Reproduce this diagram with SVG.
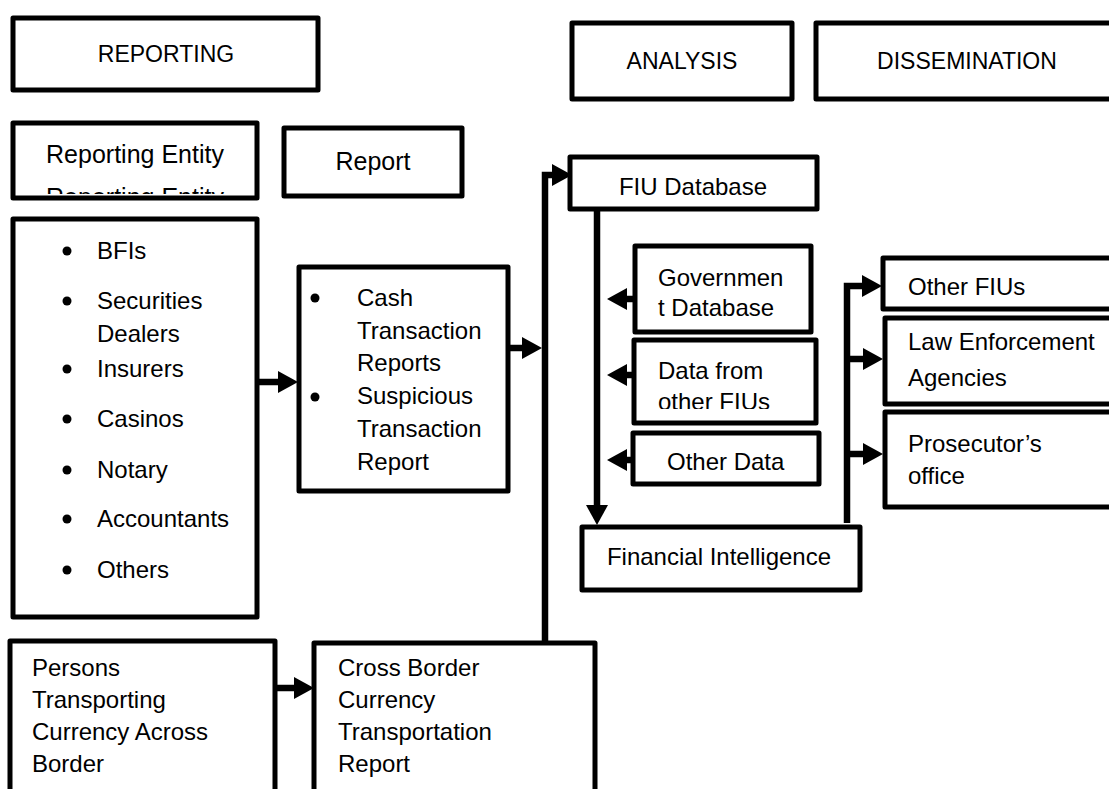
<svg xmlns="http://www.w3.org/2000/svg" width="1109" height="789" viewBox="0 0 1109 789">
<style>
.box{fill:#fff;stroke:#000;stroke-width:5;stroke-linejoin:round}
.t{font-family:"Liberation Sans",Arial,sans-serif;font-size:24px;fill:#000}
.h{font-family:"Liberation Sans",Arial,sans-serif;font-size:23px;fill:#000;text-anchor:middle}
.b{font-family:"Liberation Sans",Arial,sans-serif;font-size:25px;fill:#000;text-anchor:middle}
.c{text-anchor:middle}
.con{fill:none;stroke:#000;stroke-width:6.5;marker-end:url(#ah)}
</style>
<defs>
<marker id="ah" markerUnits="userSpaceOnUse" markerWidth="22" markerHeight="24" refX="0" refY="11" orient="auto" overflow="visible">
<path d="M0,0 L20,11 L0,22 Z" fill="#000"/>
</marker>
<clipPath id="clipRE"><rect x="15" y="125" width="240" height="69"/></clipPath>
<clipPath id="clipDF"><rect x="637" y="343" width="176" height="66"/></clipPath>
<clipPath id="clipLE"><rect x="888" y="321" width="221" height="70"/></clipPath>
</defs>
<rect width="1109" height="789" fill="#fff"/>

<g id="reporting"><rect class="box" x="13" y="18" width="305" height="72"/><text class="h" x="166" y="62">REPORTING</text></g>
<g id="analysis"><rect class="box" x="572" y="23" width="220" height="76"/><text class="h" x="682" y="69">ANALYSIS</text></g>
<g id="dissemination"><rect class="box" x="816" y="23" width="310" height="76"/><text class="h" x="967" y="69">DISSEMINATION</text></g>

<g id="reporting-entity"><rect class="box" x="13" y="123" width="244" height="75"/>
<text class="b" x="135" y="163">Reporting Entity</text>
<text class="b" x="135" y="206" clip-path="url(#clipRE)">Reporting Entity</text></g>
<g id="report"><rect class="box" x="284" y="128" width="178" height="68"/><text class="b" x="373" y="170">Report</text></g>

<g id="entities"><rect class="box" x="13" y="219" width="244" height="398"/>
<g fill="#000"><circle cx="67" cy="251" r="4.5"/><circle cx="67" cy="301" r="4.5"/><circle cx="67" cy="369" r="4.5"/><circle cx="67" cy="419" r="4.5"/><circle cx="67" cy="470" r="4.5"/><circle cx="67" cy="519" r="4.5"/><circle cx="67" cy="570" r="4.5"/></g>
<text class="t" x="97" y="259">BFIs</text>
<text class="t" x="97" y="309">Securities</text>
<text class="t" x="97" y="342">Dealers</text>
<text class="t" x="97" y="377">Insurers</text>
<text class="t" x="97" y="427">Casinos</text>
<text class="t" x="97" y="478">Notary</text>
<text class="t" x="97" y="527">Accountants</text>
<text class="t" x="97" y="578">Others</text></g>

<g id="reports"><rect class="box" x="299" y="267" width="209" height="224"/>
<g fill="#000"><circle cx="315" cy="298" r="4.5"/><circle cx="315" cy="397" r="4.5"/></g>
<text class="t" x="357" y="306">Cash</text>
<text class="t" x="357" y="339">Transaction</text>
<text class="t" x="357" y="371">Reports</text>
<text class="t" x="357" y="404">Suspicious</text>
<text class="t" x="357" y="437">Transaction</text>
<text class="t" x="357" y="470">Report</text></g>

<g id="persons"><rect class="box" x="10" y="641" width="265" height="170"/>
<text class="t" x="32" y="676">Persons</text>
<text class="t" x="32" y="708">Transporting</text>
<text class="t" x="32" y="740">Currency Across</text>
<text class="t" x="32" y="772">Border</text></g>

<g id="cross-border"><rect class="box" x="314" y="643" width="281" height="170"/>
<text class="t" x="338" y="676">Cross Border</text>
<text class="t" x="338" y="708">Currency</text>
<text class="t" x="338" y="740">Transportation</text>
<text class="t" x="338" y="772">Report</text></g>

<g id="fiu-database"><rect class="box" x="570" y="157" width="247" height="52"/><text class="t c" x="693" y="195">FIU Database</text></g>
<g id="government-database"><rect class="box" x="635" y="246" width="176" height="86"/>
<text class="t" x="658" y="286">Governmen</text><text class="t" x="658" y="316">t Database</text></g>
<g id="data-other-fius"><rect class="box" x="634" y="340" width="182" height="83"/>
<text class="t" x="658" y="379">Data from</text><text class="t" x="658" y="410" clip-path="url(#clipDF)">other FIUs</text></g>
<g id="other-data"><rect class="box" x="633" y="433" width="186" height="51"/><text class="t" x="667" y="470">Other Data</text></g>
<g id="financial-intelligence"><rect class="box" x="582" y="527" width="278" height="63"/><text class="t c" x="719" y="565">Financial Intelligence</text></g>

<g id="other-fius"><rect class="box" x="883" y="258" width="240" height="51"/><text class="t" x="908" y="295">Other FIUs</text></g>
<g id="law-enforcement"><rect class="box" x="885" y="318" width="240" height="86"/>
<text class="t" x="908" y="350">Law Enforcement</text><text class="t" x="908" y="386" clip-path="url(#clipLE)">Agencies</text></g>
<g id="prosecutor"><rect class="box" x="885" y="412" width="240" height="95"/>
<text class="t" x="908" y="452">Prosecutor’s</text><text class="t" x="908" y="484">office</text></g>

<g id="connectors">
<path class="con" d="M257,382 H278"/>
<path class="con" d="M508,348 H522"/>
<path class="con" d="M275,688 H294"/>
<path class="con" d="M545,645 V175 H552"/>
<path class="con" d="M597,209 V505"/>
<path class="con" d="M635,299 H627"/>
<path class="con" d="M634,375 H627"/>
<path class="con" d="M633,460 H627"/>
<path class="con" d="M847,523 V286 H862"/>
<path class="con" d="M847,359 H863"/>
<path class="con" d="M847,454 H863"/>
</g>
</svg>
